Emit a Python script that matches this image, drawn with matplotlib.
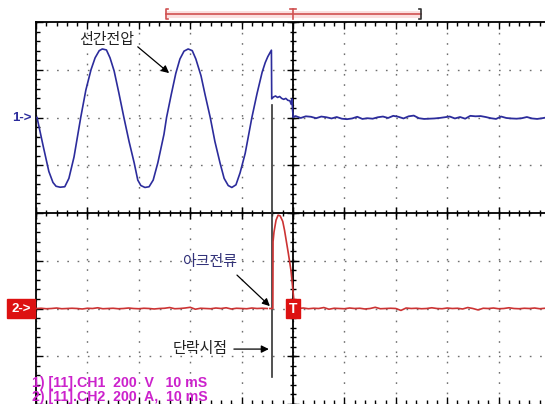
import numpy as np
import matplotlib
matplotlib.use("Agg")
import matplotlib.pyplot as plt

plt.rcParams["font.family"] = ["Liberation Sans", "DejaVu Sans"]
KR = ["Noto Sans CJK KR", "DejaVu Sans"]

# ---- scope settings ----
ms_per_div = 10
volts_per_div = 200
amps_per_div = 200
ch1_offset_div = 2      # CH1 ground marker "1->"
ch2_offset_div = -2     # CH2 ground marker "2->"
fault_t = -4.1          # short-circuit instant (ms)

# ---- CH1: line-to-line voltage (V), time in ms relative to trigger ----
ch1_t = [-49.8, -48.6, -47.5, -46.7, -46.1, -45.3, -44.4, -43.6, -42.6, -41.3,
         -40.3, -39.3, -38.5, -37.7, -37.1, -36.3, -35.6, -34.8, -33.9, -32.9,
         -31.9, -30.9, -30.2, -29.6, -28.8, -28.0, -27.2, -26.3, -25.1, -24.6,
         -23.7, -22.8, -22.0, -21.2, -20.4, -19.6, -18.9, -17.9, -17.1, -16.1,
         -15.2, -14.2, -13.4, -12.6, -11.9, -11.1, -10.3, -9.3, -8.0, -7.0,
         -6.0, -5.4, -4.9, -4.2,
         -4.14, -3.8, -3.4, -3.0, -2.6, -2.2, -1.8, -1.4, -1.0, -0.6,
         -0.35, -0.2, -0.08, 0.05]
ch1_v = [0, -120, -226, -272, -288, -292, -290, -255, -165, 0,
         115, 200, 250, 280, 287, 283, 250, 195, 105, 0,
         -100, -190, -262, -285, -293, -290, -262, -190, -70, 0,
         95, 185, 245, 278, 287, 280, 245, 175, 95, 0,
         -100, -190, -255, -285, -293, -282, -232, -150, 0, 100,
         190, 230, 255, 282,
         78, 86, 90, 84, 88, 80, 76, 80, 72, 70,
         55, 78, 30, 2]
ch1_post_v = [6, -2, 5, 3, -3, 4, 1, -4, 2, -5, -7, -4, 3, -6, -3, -5, 1, 4, -2, 7,
              3, -4, 5, 8, -3, -6, -5, -4, -2, 1, 4, -4, 2, -5, 7, 5, 6, 2, -3, -6,
              4, -2, -4, -5, -3, 2, -4, -6, -3, 1]

# ---- CH2: arc current (A) ----
ch2_pre_i = [0, 1, -1, 0, 2, -1, 0, 1, 0, -2, 1, 0, 3, -1, 0, 1, -1, 0, 2, 0,
             -1, 1, 0, -2, 0, 1, 4, -1, 0, 2, 5, -3, 1, 0, -1, 2, 0, 3, -2, 1,
             0, -1, 2, 0, 1, 0]
ch2_pulse_t = [-4.5, -3.92, -3.88, -3.7, -3.3, -2.9, -2.5, -2.0, -1.65, -0.9,
               -0.4, 0.05, 0.3, 0.6]
ch2_pulse_i = [0, 0, 280, 320, 370, 391, 388, 365, 328, 230,
               160, 63, 5, 0]
ch2_post_i = [0, 2, -1, 1, 0, 4, -3, 1, 0, -1, 2, 0, 1, -2, 0, 5, -1, 0, 1, 0,
              -8, 2, 0, 1, -1, 0, 3, 0, -1, 2, 0, 1, -2, 4, 0, -6, 1, 0, 2, -1,
              0, 3, 0, -1, 1, 0, 2, -1, 1]

# sampling instants of the noise-only stretches
ch1_post_t = np.linspace(0.5, 49.5, len(ch1_post_v))
ch2_pre_t = np.linspace(-50, -5, len(ch2_pre_i))
ch2_post_t = np.linspace(1, 49, len(ch2_post_i))

BLUE = "#2c2c9c"
RED = "#cc3333"
MAGENTA = "#cc22cc"

W, H = 545, 404
fig = plt.figure(figsize=(W / 100, H / 100), dpi=100)
fig.patch.set_facecolor("white")

# graticule: 10 x 8 divisions
ax = fig.add_axes([36 / W, 0, 514 / W, 382 / H])
ax.set_xlim(-5 * ms_per_div, 5 * ms_per_div)
ax.set_ylim(-4, 4)
ax.set_xticks(np.arange(-50, 51, ms_per_div))
ax.set_xticks(np.arange(-50, 51, ms_per_div / 5), minor=True)
ax.set_yticks(np.arange(-4, 5, 1))
ax.set_yticks(np.arange(-4, 4.01, 0.2), minor=True)
ax.tick_params(which="both", direction="in", top=True, bottom=True, left=True,
               right=True, labelbottom=False, labelleft=False, color="black",
               width=1.0)
ax.tick_params(which="major", length=5)
ax.tick_params(which="minor", length=3)
ax.grid(which="major", color="#707070", linewidth=1.0,
        linestyle=(0, (1.2, 6.2)))
for side in ("top", "left"):
    ax.spines[side].set_linewidth(1.3)
ax.spines["bottom"].set_visible(False)

# center crosshair with fine ticks
ax.axhline(0, color="black", lw=1.3)
ax.axvline(0, color="black", lw=1.3)
xm = np.arange(-50, 51, 2)
ym = np.arange(-4, 4.01, 0.2)
ax.plot(xm, np.zeros_like(xm), ls="none", marker="|", ms=5, mew=1.0, color="black")
ax.plot(np.zeros_like(ym), ym, ls="none", marker="_", ms=5, mew=1.0, color="black")
ax.plot(np.arange(-50, 51, 10), np.zeros(11), ls="none", marker="|", ms=8,
        mew=1.0, color="black")
ax.plot(np.zeros(9), np.arange(-4, 5, 1), ls="none", marker="_", ms=8,
        mew=1.0, color="black")

# fault-instant marker line
ax.plot([fault_t, fault_t], [2.26, -3.43], color="#333333", lw=1.2, zorder=4)

# channel axes
ax_v = ax.twinx()
ax_v.set_ylim((-4 - ch1_offset_div) * volts_per_div, (4 - ch1_offset_div) * volts_per_div)
ax_v.axis("off")
ax_i = ax.twinx()
ax_i.set_ylim((-4 - ch2_offset_div) * amps_per_div, (4 - ch2_offset_div) * amps_per_div)
ax_i.axis("off")

ax_v.plot(ch1_t, ch1_v, color=BLUE, lw=1.2)
ax_v.plot(np.concatenate([[0.05], ch1_post_t]), np.concatenate([[2], ch1_post_v]),
          color=BLUE, lw=1.3)

ax_i.plot(ch2_pre_t, ch2_pre_i, color=RED, lw=1.2)
ax_i.plot(ch2_pulse_t, ch2_pulse_i, color=RED, lw=1.2)
ax_i.plot(ch2_post_t, ch2_post_i, color=RED, lw=1.2)

tr = ax.transData

# trigger window bracket above the screen
ax_i.plot([-24.7, 24.9], [4.17, 4.17], transform=tr, color="#fbe0e0", lw=5,
          clip_on=False, solid_capstyle="butt")
ax_i.plot([-24.7, 24.9], [4.17, 4.17], transform=tr, color="#d05050", lw=1.2,
          clip_on=False)
ax_i.plot([-24.3, -24.7, -24.7, -24.3], [4.27, 4.27, 4.06, 4.06], transform=tr,
          color="#d05050", lw=1.2, clip_on=False)
ax_i.plot([24.5, 24.9, 24.9, 24.5], [4.27, 4.27, 4.06, 4.06], transform=tr,
          color="#333333", lw=1.2, clip_on=False)
ax_i.plot([0, 0], [4.06, 4.27], transform=tr, color="#d05050", lw=1.2, clip_on=False)
ax_i.plot([-0.5, 0.5], [4.27, 4.27], transform=tr, color="#d05050", lw=1.2, clip_on=False)

# channel ground markers
ax_i.text(-52.7, ch1_offset_div, "1->", transform=tr, color=BLUE, fontsize=9.5,
          fontweight="bold", ha="center", va="center", clip_on=False)
ax_i.text(-52.9, ch2_offset_div, "2->", transform=tr, color="white", fontsize=9.5,
          fontweight="bold", ha="center", va="center", clip_on=False,
          bbox=dict(boxstyle="square,pad=0.3", fc="#dd1111", ec="#dd1111"))
ax_i.text(0, ch2_offset_div, "T", transform=tr, color="white", fontsize=10,
          fontweight="bold", ha="center", va="center",
          bbox=dict(boxstyle="square,pad=0.2", fc="#dd1111", ec="#dd1111"))

# annotations
arrow = dict(arrowstyle="-|>", color="black", lw=0.9, mutation_scale=11,
             shrinkA=0, shrinkB=0)
ax_i.annotate("", xy=(-24.1, 2.93), xytext=(-30.2, 3.48), xycoords=tr,
              textcoords=tr, arrowprops=arrow)
ax_i.text(-36.2, 3.62, "선간전압", transform=tr, family=KR, fontsize=10.8,
          color="#222222", ha="center", va="center")
ax_i.annotate("", xy=(-4.5, -1.95), xytext=(-10.9, -1.30), xycoords=tr,
              textcoords=tr, arrowprops=arrow)
ax_i.text(-16.3, -1.03, "아크전류", transform=tr, family=KR, fontsize=10.8,
          color="#33337a", ha="center", va="center")
ax_i.annotate("", xy=(-4.7, -2.85), xytext=(-11.5, -2.85), xycoords=tr,
              textcoords=tr, arrowprops=arrow)
ax_i.text(-18.1, -2.85, "단락시점", transform=tr, family=KR, fontsize=10.8,
          color="#222222", ha="center", va="center")

# channel settings readout
ax_i.text(-50.8, -3.56, "1) [11].CH1  200  V   10 mS", transform=tr,
          color=MAGENTA, fontsize=10.2, fontweight="bold", ha="left",
          va="center", clip_on=False)
ax_i.text(-50.8, -3.86, "2) [11].CH2  200  A,  10 mS", transform=tr,
          color=MAGENTA, fontsize=10.2, fontweight="bold", ha="left",
          va="center", clip_on=False)

fig.savefig("out.png", dpi=100)
